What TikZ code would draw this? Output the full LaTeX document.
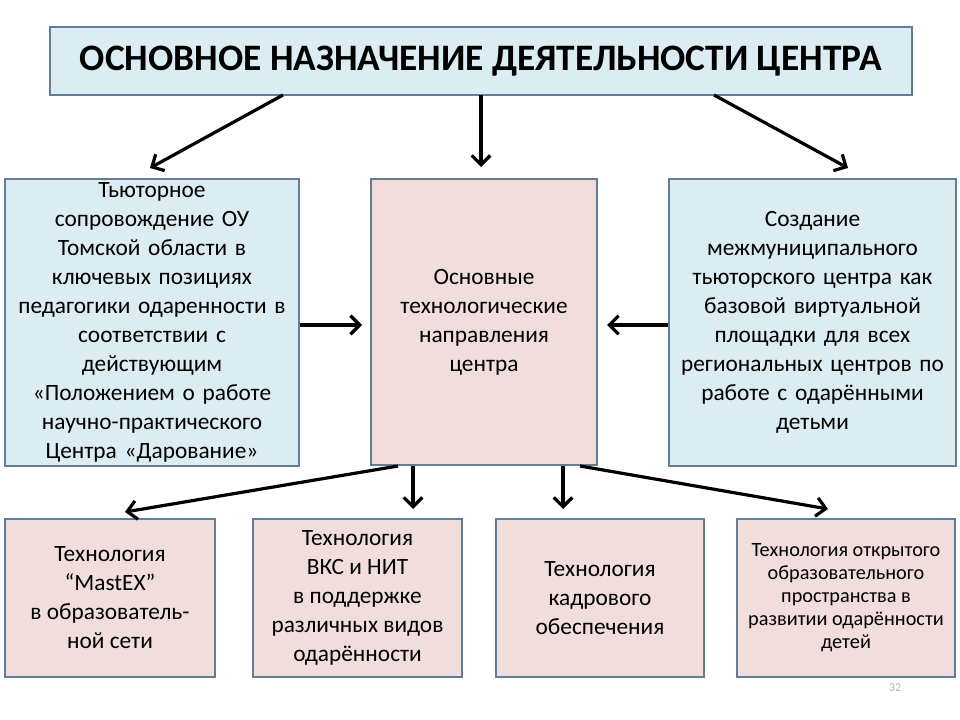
\documentclass[tikz,border=0pt]{standalone}
\usepackage{fontspec}
\setmainfont{Carlito}
\usetikzlibrary{arrows.meta}
\definecolor{lb}{RGB}{219,236,243}
\definecolor{pk}{RGB}{242,221,221}
\definecolor{bd}{RGB}{100,125,150}
\tikzset{
 box/.style={draw=bd,line width=1.5pt,inner sep=0pt,align=center,font=\fontsize{17.5pt}{21.75pt}\selectfont},
 arr/.style={line width=2.4pt,-{Straight Barb[length=7pt,width=14pt]}}
}
\begin{document}
\begin{tikzpicture}[x=0.75pt,y=-0.75pt]
\useasboundingbox (0,0) rectangle (960,720);
\node[box,fill=lb,minimum width=862*0.75pt,minimum height=68*0.75pt,font=\bfseries\fontsize{28pt}{30pt}\selectfont] (title) at (481,61) {ОСНОВНОЕ НАЗНАЧЕНИЕ ДЕЯТЕЛЬНОСТИ ЦЕНТРА};
\node[box,fill=lb,minimum width=294*0.75pt,minimum height=287*0.75pt,text width=290*0.75pt] (L) at (152,322.5) {Тьюторное\\сопровождение ОУ\\Томской области в\\ключевых позициях\\педагогики одаренности в\\соответствии с\\действующим\\«Положением о работе\\научно-практического\\Центра «Дарование»};
\node[box,fill=pk,minimum width=226*0.75pt,minimum height=286*0.75pt,text width=220*0.75pt] (C) at (484,322) {Основные\\технологические\\направления\\центра};
\node[box,fill=lb,minimum width=287*0.75pt,minimum height=287*0.75pt,text width=283*0.75pt] (R) at (812.5,322.5) {Создание\\межмуниципального\\тьюторского центра как\\базовой виртуальной\\площадки для всех\\региональных центров по\\работе с одарёнными\\детьми};
\node[box,fill=pk,minimum width=210*0.75pt,minimum height=158*0.75pt] (B1) at (110,598) {Технология\\“MastEX”\\в образователь-\\ной сети};
\node[box,fill=pk,minimum width=209*0.75pt,minimum height=158*0.75pt] (B2) at (357.5,598) {Технология\\ВКС и НИТ\\в поддержке\\различных видов\\одарённости};
\node[box,fill=pk,minimum width=208*0.75pt,minimum height=158*0.75pt] (B3) at (600,598) {Технология\\кадрового\\обеспечения};
\node[box,fill=pk,minimum width=218*0.75pt,minimum height=158*0.75pt,font=\fontsize{15.2pt}{17.3pt}\selectfont] (B4) at (846,598) {Технология открытого\\образовательного\\пространства в\\развитии одарённости\\детей};
\node[text=gray!60,font=\fontsize{9pt}{10pt}\selectfont] (pg) at (895,688) {32};
\coordinate (t1) at (283,95); \coordinate (t1e) at (150,168);
\coordinate (t2) at (481,95); \coordinate (t2e) at (481,167);
\coordinate (t3) at (714,95); \coordinate (t3e) at (848,168);
\draw[arr] (t1) -- (t1e);
\draw[arr] (t2) -- (t2e);
\draw[arr] (t3) -- (t3e);
\coordinate (l1) at (300,325); \coordinate (l1e) at (362,325);
\coordinate (r1) at (668,325); \coordinate (r1e) at (607,325);
\draw[arr] (l1) -- (l1e);
\draw[arr] (r1) -- (r1e);
\coordinate (c1) at (398,466); \coordinate (c1e) at (125,512);
\coordinate (c2) at (413,466); \coordinate (c2e) at (413,509);
\coordinate (c3) at (563,466); \coordinate (c3e) at (563,509);
\coordinate (c4) at (580,466); \coordinate (c4e) at (828,509);
\draw[arr] (c1) -- (c1e);
\draw[arr] (c2) -- (c2e);
\draw[arr] (c3) -- (c3e);
\draw[arr] (c4) -- (c4e);
\end{tikzpicture}
\end{document}
